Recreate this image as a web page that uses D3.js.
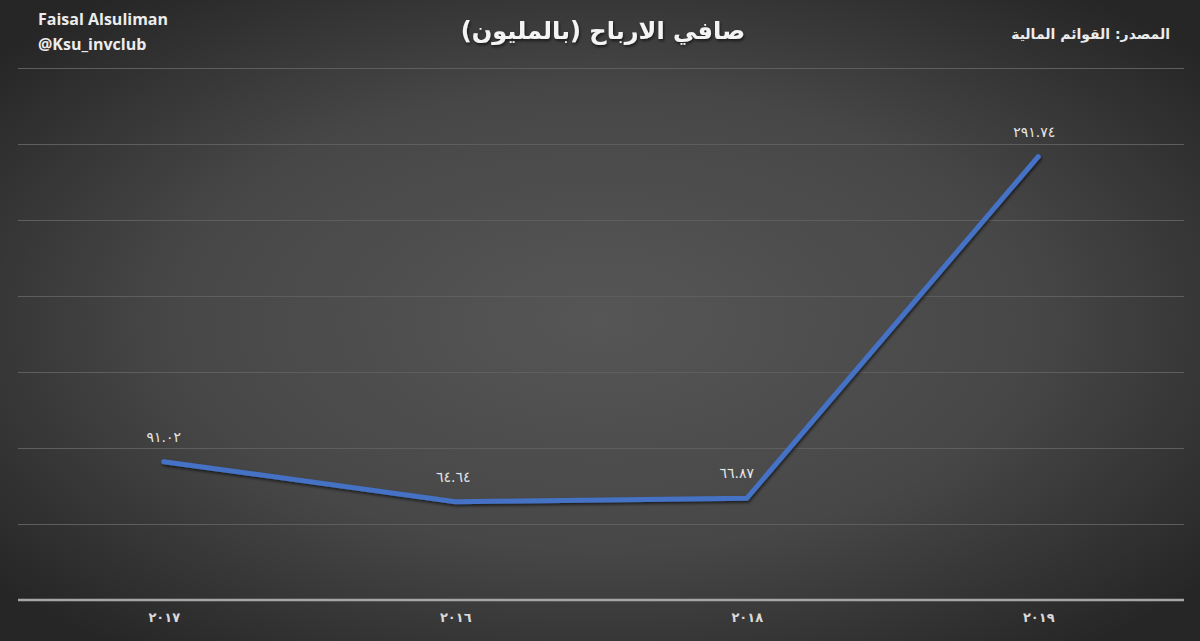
<!DOCTYPE html>
<html>
<head>
<meta charset="utf-8">
<script src="https://cdn.jsdelivr.net/npm/d3@7"></script>
<style>
  html, body { margin: 0; padding: 0; background: #333; }
  svg { display: block; }
</style>
</head>
<body>
<div id="chart"></div>
<script>
// chart values
const years = ["٢٠١٧", "٢٠١٦", "٢٠١٨", "٢٠١٩"];
const profits = [91.02, 64.64, 66.87, 291.74];
const profitLabels = ["٩١.٠٢", "٦٤.٦٤", "٦٦.٨٧", "٢٩١.٧٤"];
const yTicks = [50, 100, 150, 200, 250, 300, 350];

const w = 1200, h = 641;
const margin = { left: 18, right: 16, top: 68, bottom: 41 };

const svg = d3.select("#chart").append("svg")
  .attr("width", w)
  .attr("height", h);

const defs = svg.append("defs");
const grad = defs.append("radialGradient")
  .attr("id", "bg")
  .attr("cx", "50%").attr("cy", "50%").attr("r", "65%");
grad.append("stop").attr("offset", "0%").attr("stop-color", "#565656");
grad.append("stop").attr("offset", "55%").attr("stop-color", "#474747");
grad.append("stop").attr("offset", "100%").attr("stop-color", "#262626");

const shadow = defs.append("filter").attr("id", "shadow")
  .attr("x", "-10%").attr("y", "-10%").attr("width", "120%").attr("height", "130%");
shadow.append("feDropShadow")
  .attr("dx", 1).attr("dy", 2).attr("stdDeviation", 1.5)
  .attr("flood-color", "#000").attr("flood-opacity", 0.6);

svg.append("rect").attr("width", w).attr("height", h).attr("fill", "url(#bg)");

const x = d3.scalePoint()
  .domain(years)
  .range([margin.left, w - margin.right])
  .padding(0.5);

const y = d3.scaleLinear()
  .domain([0, 350])
  .range([h - margin.bottom, margin.top]);

// gridlines
svg.append("g")
  .selectAll("line")
  .data(yTicks)
  .join("line")
  .attr("x1", margin.left)
  .attr("x2", w - margin.right)
  .attr("y1", d => Math.round(y(d)) + 0.5)
  .attr("y2", d => Math.round(y(d)) + 0.5)
  .attr("stroke", "#5e5e5e")
  .attr("stroke-width", 1);

// x axis
const xAxis = svg.append("g")
  .attr("transform", `translate(0,${y(0)})`)
  .call(d3.axisBottom(x).tickSize(0).tickPadding(13));
xAxis.select(".domain")
  .attr("d", `M${margin.left},0H${w - margin.right}`)
  .attr("stroke", "#a6a6a6")
  .attr("stroke-width", 2.5);
xAxis.selectAll("text")
  .attr("fill", "#d9d9d9")
  .style("font-family", "'DejaVu Sans', sans-serif")
  .style("font-size", "13px")
  .style("font-weight", "bold");

// line
const line = d3.line()
  .x((d, i) => x(years[i]))
  .y(d => y(d));

svg.append("path")
  .datum(profits)
  .attr("d", line)
  .attr("fill", "none")
  .attr("stroke", "#4472c4")
  .attr("stroke-width", 5)
  .attr("stroke-linecap", "round")
  .attr("stroke-linejoin", "miter")
  .attr("filter", "url(#shadow)");

// value labels
const labelDx = [0, -2, -10, -4];
svg.append("g")
  .selectAll("text")
  .data(profits)
  .join("text")
  .attr("x", (d, i) => x(years[i]) + labelDx[i])
  .attr("y", d => y(d) - 20)
  .attr("text-anchor", "middle")
  .attr("fill", "#e6e6e6")
  .style("font-family", "'DejaVu Sans', sans-serif")
  .style("font-size", "14px")
  .style("letter-spacing", "1px")
  .text((d, i) => profitLabels[i]);

// title
svg.append("text")
  .attr("x", 603)
  .attr("y", 39)
  .attr("text-anchor", "middle")
  .attr("fill", "#f4f4f4")
  .attr("filter", "url(#shadow)")
  .style("font-family", "'DejaVu Sans', sans-serif")
  .style("font-size", "24px")
  .style("font-weight", "bold")
  .text("صافي الارباح (بالمليون)");

// author
svg.append("text")
  .attr("x", 38).attr("y", 25)
  .attr("fill", "#ececec")
  .style("font-family", "'Open Sans', sans-serif")
  .style("font-size", "16px")
  .style("font-weight", "bold")
  .text("Faisal Alsuliman");
svg.append("text")
  .attr("x", 38).attr("y", 50)
  .attr("fill", "#ececec")
  .style("font-family", "'Open Sans', sans-serif")
  .style("font-size", "16px")
  .style("font-weight", "bold")
  .text("@Ksu_invclub");

// source
svg.append("text")
  .attr("x", 1170).attr("y", 39)
  .attr("text-anchor", "end")
  .attr("fill", "#ececec")
  .style("font-family", "'DejaVu Sans', sans-serif")
  .style("font-size", "14px")
  .style("font-weight", "bold")
  .text("المصدر: القوائم المالية");
</script>
</body>
</html>
